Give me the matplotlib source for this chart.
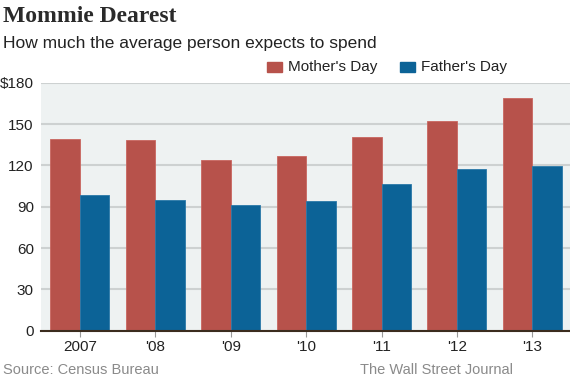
import matplotlib
matplotlib.use("Agg")
import matplotlib.pyplot as plt
import numpy as np
from matplotlib.patches import Rectangle

years = ["2007", "'08", "'09", "'10", "'11", "'12", "'13"]
mothers_day = [139.14, 138.63, 123.89, 126.90, 140.73, 152.52, 168.94]
fathers_day = [98.34, 95.00, 90.89, 94.32, 106.49, 117.14, 119.84]
yticks = [0, 30, 60, 90, 120, 150, 180]
ytick_labels = ["0", "30", "60", "90", "120", "150", "$180"]

RED = "#b7524b"
BLUE = "#0c6397"
BG = "#eef2f2"
GRID = "#cdd1d1"

fig = plt.figure(figsize=(5.70, 3.79), dpi=100)
ax = fig.add_axes([0.0714, 0.1274, 0.9286, 0.6544])
ax.set_facecolor(BG)

x = np.arange(len(years))
w = 0.39
ax.bar(x - w / 2, mothers_day, w, color=RED, edgecolor="#c9665f", linewidth=0.6, zorder=3)
ax.bar(x + w / 2, fathers_day, w, color=BLUE, edgecolor="#2a78a8", linewidth=0.6, zorder=3)

ax.set_xlim(-0.52, 6.5)
ax.set_ylim(0, 180)
ax.set_yticks(yticks)
ax.set_yticklabels(ytick_labels)
ax.set_xticks(x)
ax.set_xticklabels(years)
ax.yaxis.grid(True, color=GRID, linewidth=1.5, zorder=1)
ax.set_axisbelow(True)
for s in ["top", "right", "left"]:
    ax.spines[s].set_visible(False)
ax.spines["bottom"].set_color("#3b2c1e")
ax.spines["bottom"].set_linewidth(1.5)
ax.spines["bottom"].set_zorder(5)
ax.tick_params(axis="y", length=0, pad=5, labelsize=11, labelcolor="#222222")
ax.tick_params(axis="x", length=4, width=0.8, color="#999999", pad=3, labelsize=11, labelcolor="#222222")
for lab in ax.get_yticklabels() + ax.get_xticklabels():
    lab.set_fontfamily("Liberation Sans")

fig.text(0.005, 0.985, "Mommie Dearest", fontfamily="Liberation Serif", fontweight="bold",
         fontsize=17, color="#2a2a2a", ha="left", va="top")
fig.text(0.005, 0.905, "How much the average person expects to spend", fontfamily="Liberation Sans",
         fontsize=12.5, color="#222222", ha="left", va="top")

# legend
for (x0, col, label) in [(267, RED, "Mother's Day"), (400, BLUE, "Father's Day")]:
    fig.patches.append(Rectangle((x0 / 570, 1 - 72 / 379), 15 / 570, 10 / 379,
                                 transform=fig.transFigure, color=col))
    fig.text((x0 + 21) / 570, 1 - 67.5 / 379, label, fontfamily="Liberation Sans", fontsize=11,
             color="#222222", ha="left", va="center")

fig.text(0.005, 1 - 370 / 379, "Source: Census Bureau", fontfamily="Liberation Sans",
         fontsize=10.5, color="#8a8a8a", ha="left", va="center")
fig.text(513 / 570, 1 - 370 / 379, "The Wall Street Journal", fontfamily="Liberation Sans",
         fontsize=10.5, color="#8a8a8a", ha="right", va="center")

fig.savefig("out.png", dpi=100, facecolor="white")
